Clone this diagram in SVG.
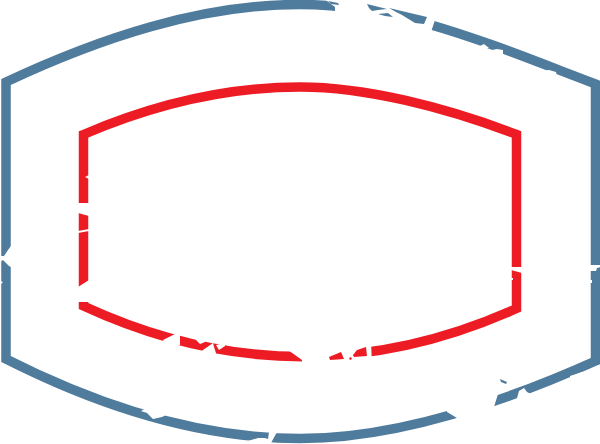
<svg xmlns="http://www.w3.org/2000/svg" width="600" height="444" viewBox="0 0 600 444">
<style>
.o{fill:none;stroke:#4f7b9c;stroke-width:9.500;stroke-linejoin:miter}
.r{fill:none;stroke:#ed1c24;stroke-width:9.500;stroke-linejoin:miter}
.w{fill:#fff}
.b{fill:#4f7b9c}
.e{fill:#ed1c24}
</style>
<rect width="600" height="444" fill="#fff"/>
<path class="o" d="M6 82C100 38 200 4.500 300 4.500C400 4.500 490 44 595.500 84V361C495 406 390 438.500 300 438.500C195 438.500 95 404 6 359Z"/>
<path class="r" d="M83.500 134.500C150 106 225 87 300 87C365 87 445 107 516.500 134.500V308.500Q300 406 83.500 306Z"/>
<!-- outer top breaks -->
<polygon class="w" points="323,-2 335,7 335,16 431,32 436,17 428,-2"/>
<polygon class="b" points="328,1 338,3 339,5 331,4"/>
<polygon class="b" points="367,4 387,9 378,10 372,11 369,8"/>
<polygon class="b" points="378,14 388,13 393,17 385,16"/>
<polygon class="b" points="389,8 427,17 424,24 415,23 402,15 396,12"/>
<polygon class="w" points="480,46 484,44 489,48 482,49"/>
<polygon class="w" points="492,50 497,49 503,50 503,54 493,54"/>
<polygon class="w" points="541,71 549,70 556,72 557,76 541,76"/>
<!-- outer right -->
<polygon class="w" points="590,265 601,265 601,267 597,268 596,271 590,271"/>
<polygon class="w" points="589,280 592,280 592,283 589,283"/>
<!-- outer bottom right -->
<polygon class="w" points="447,400 447,412 457,418 447,423 447,430 495,430 494,407 498,394 498,385"/>
<polygon class="b" points="500,379 507,382 506,384 501,382"/>
<polygon class="w" points="517,398 519,391 524,388 527,392 531,394 531,402 517,402"/>
<polygon class="w" points="570,376 576,374 582,372 582,377 570,380"/>
<!-- outer bottom nicks -->
<polygon class="w" points="269,432 277,432 271,443 271,446 248,446 248,441 258,438 265,438 268,439"/>
<polygon class="w" points="141,411 147,413 153,419 162,417 166,415 148,407"/>
<!-- outer left -->
<polygon class="w" points="11,246 8,250 4,256 0,256 0,262 3,260 9,266 11,267"/>
<polygon class="w" points="0,281 3,282 0,285"/>
<!-- red left -->
<polygon class="w" points="85,177 89,175 89,179"/>
<polygon class="w" points="78,203 89,203 89,216 78,213"/>
<polygon class="w" points="78,231 89,229 89,231 78,233"/>
<polygon class="w" points="78,287 89,280 89,302 78,302"/>
<!-- red right -->
<polygon class="w" points="511,267 522,267 522,273 511,270"/>
<polygon class="w" points="511,278 513,278 513,280 511,280"/>
<!-- red bottom breaks -->
<polygon class="w" points="165,345 163,340 175,334 175,330 180,330 180,345"/>
<polygon class="w" points="195,339 200,344 205,342 205,337"/>
<polygon class="w" points="213,343 214,347 216,353 215,356 201,352 203,350"/>
<polygon class="w" points="216,345 219,350 225,346 225,343"/>
<polygon class="w" points="288,350 302,360 302,366 372,366 371,340 288,345"/>
<polygon class="e" points="329,357 341,352 344,359 330,360"/>
<polygon class="e" points="353,355 357,350 366,347 367,356 354,357"/>
<polygon class="e" points="350,357 352,358 351,360 349,359"/>
</svg>
